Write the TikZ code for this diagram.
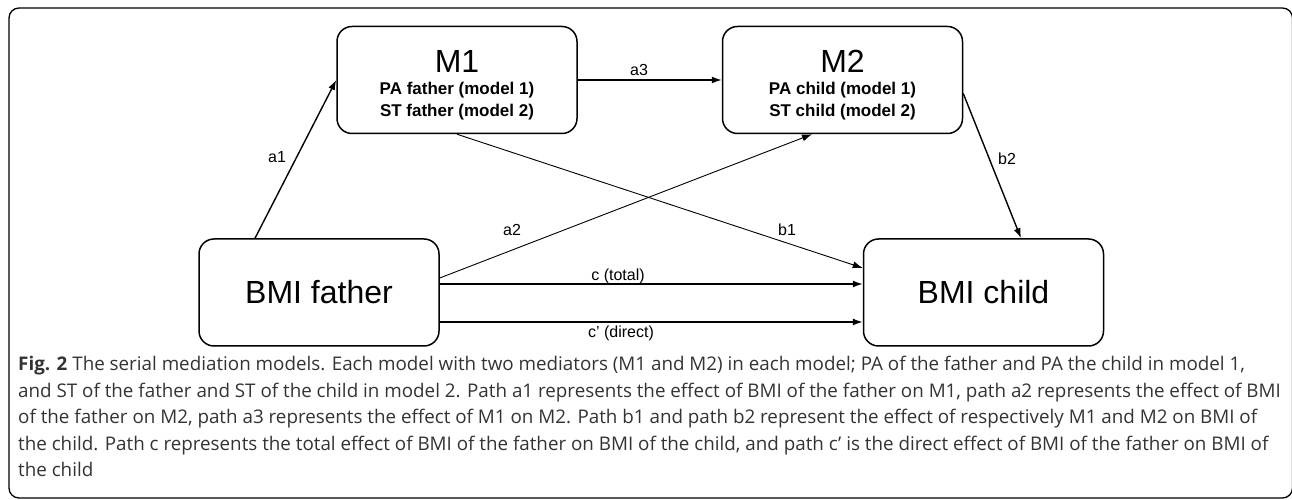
\documentclass[tikz,border=0pt]{standalone}
\usepackage{fontspec}
\setmainfont{Liberation Sans}
\newfontfamily\capfont{Open Sans}
\usetikzlibrary{arrows.meta,positioning}
\definecolor{capgrey}{HTML}{333333}
\tikzset{varbox/.style={draw,line width=1.5pt,rounded corners=15pt,minimum width=240pt,minimum height=107pt,inner sep=0pt,align=center},
medbox/.style={varbox,font=\bfseries\fontsize{17}{21.5}\selectfont},
effect/.style={line width=1.4pt,-{Latex[length=10pt,width=7pt]}},
crosseffect/.style={line width=0.9pt,-{Latex[length=10pt,width=7pt]}},
pathlabel/.style={font=\fontsize{16}{19}\selectfont,inner sep=0pt}}

\begin{document}
\begin{tikzpicture}[x=1pt, y=1pt]

\useasboundingbox (0,0) rectangle (1292,500);

% Frame
\draw[line width=1.3pt, rounded corners=10pt] (9,2) rectangle (1292.5,492);

% Boxes
\node[medbox] (m1) at (457,420) {\rule{0pt}{33pt}{\mdseries\fontsize{32}{32}\selectfont M1}\\[0.5pt]PA father (model 1)\\ST father (model 2)};
\node[medbox] (m2) at (842.5,420) {\rule{0pt}{33pt}{\mdseries\fontsize{32}{32}\selectfont M2}\\[0.5pt]PA child (model 1)\\ST child (model 2)};
\node[varbox, font=\fontsize{32}{32}\selectfont] (father) at (319,207.5) {BMI father};
\node[varbox, font=\fontsize{32}{32}\selectfont] (child) at (983.5,207.5) {BMI child};

% Paths
\draw[effect] ([xshift=-64pt]father.north) -- (m1.west);
\draw[effect] (m1.east) -- (m2.west);
\draw[crosseffect] ([yshift=14.5pt]father.east) -- ([xshift=-30.5pt]m2.south);
\draw[crosseffect] (m1.south) -- ([yshift=24.5pt]child.west);
\draw[effect] ([yshift=-13.5pt]m2.east) -- ([xshift=37.5pt]child.north);
\draw[effect] ([yshift=8.5pt]father.east) -- ([yshift=8.5pt]child.west);
\draw[effect] ([yshift=-29.5pt]father.east) -- ([yshift=-29.5pt]child.west);

% Path labels
\node[pathlabel] (la1) at (277,343) {a1};
\node[pathlabel] (la2) at (512,270) {a2};
\node[pathlabel] (la3) at (639,430) {a3};
\node[pathlabel] (lb1) at (787,270) {b1};
\node[pathlabel] (lb2) at (1007,341) {b2};
\node[pathlabel] (lc) at (618,224) {c (total)};
\node[pathlabel] (ld) at (621,167) {c' (direct)};

% Caption
\node[anchor=north west, inner sep=0pt, align=left, text=capgrey, font=\capfont\fontsize{18.8}{26.5}\selectfont] (caption) at (18,144) {{\bfseries Fig. 2} The serial mediation models. Each model with two mediators (M1 and M2) in each model; PA of the father and PA the child in model 1,\\
and ST of the father and ST of the child in model 2. Path a1 represents the effect of BMI of the father on M1, path a2 represents the effect of BMI\\
of the father on M2, path a3 represents the effect of M1 on M2. Path b1 and path b2 represent the effect of respectively M1 and M2 on BMI of\\
the child. Path c represents the total effect of BMI of the father on BMI of the child, and path c’ is the direct effect of BMI of the father on BMI of\\
the child};

\end{tikzpicture}
\end{document}
